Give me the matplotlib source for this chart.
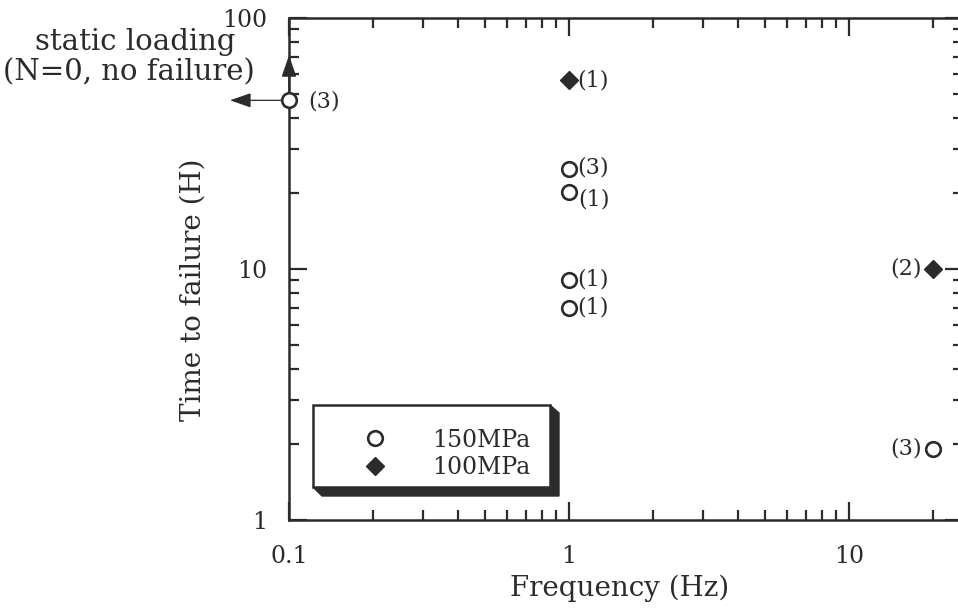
import matplotlib
matplotlib.use("Agg")
import matplotlib.pyplot as plt
from matplotlib.patches import Polygon, Rectangle
from matplotlib.lines import Line2D
from matplotlib.ticker import LogLocator, NullFormatter, FixedLocator, FixedFormatter

plt.rcParams['font.family'] = ['DejaVu Serif']

# ---- data ----
f150 = [0.1, 1, 1, 1, 1, 20]
t150 = [47, 25, 20.2, 9, 7, 1.92]
n150 = ['(3)', '(3)', '(1)', '(1)', '(1)', '(3)']
f100 = [1, 20]
t100 = [56.5, 10]
n100 = ['(1)', '(2)']
x_ticks = [0.1, 1, 10]
x_ticklabels = ['0.1', '1', '10']
y_ticks = [1, 10, 100]
y_ticklabels = ['1', '10', '100']
series_names = ['150MPa', '100MPa']
static_freq = 0.1
static_time = 47
static_line1 = 'static loading'
static_line2 = '(N=0, no failure)'

# label offsets (points)
off150 = [(14, -1), (6, 1), (7, -5), (6, 1), (6, 0), (-8, 0)]
ha150 = ['left', 'left', 'left', 'left', 'left', 'right']
off100 = [(6, 0), (-8, 0)]
ha100 = ['left', 'right']

C = '#2b2b2b'
W, H = 958, 610
fig = plt.figure(figsize=(W / 100, H / 100), dpi=100)
L, R, T, B = 289, 963, 18, 520
ax = fig.add_axes([L / W, (H - B) / H, (R - L) / W, (B - T) / H])
ax.set_xscale('log')
ax.set_yscale('log')
ax.set_xlim(0.1, 0.1 * 10 ** ((R - L) / 280))
ax.set_ylim(1, 100)

for s in ax.spines.values():
    s.set_linewidth(1.8)
    s.set_color(C)

ax.xaxis.set_major_locator(FixedLocator(x_ticks))
ax.xaxis.set_major_formatter(FixedFormatter(x_ticklabels))
ax.yaxis.set_major_locator(FixedLocator(y_ticks))
ax.yaxis.set_major_formatter(FixedFormatter(y_ticklabels))
ax.xaxis.set_minor_locator(LogLocator(base=10, subs=range(2, 10)))
ax.yaxis.set_minor_locator(LogLocator(base=10, subs=range(2, 10)))
ax.xaxis.set_minor_formatter(NullFormatter())
ax.yaxis.set_minor_formatter(NullFormatter())
ax.tick_params(which='both', direction='in', top=True, right=True, color=C,
               labelcolor=C, labelsize=17)
ax.tick_params(which='major', length=13, width=1.6)
ax.tick_params(which='minor', length=7, width=1.6)
ax.tick_params(axis='x', which='major', pad=18)
ax.tick_params(axis='y', which='major', pad=15.5)

ax.set_xlabel('Frequency (Hz)', fontsize=20, color=C)
ax.set_ylabel('Time to failure (H)', fontsize=20, color=C)
ax.xaxis.set_label_coords((620 - L) / (R - L), (B - 588) / (B - T))
ax.xaxis.label.set_va('center')
ax.yaxis.set_label_coords((193 - L) / (R - L), (B - 290) / (B - T))
ax.yaxis.label.set_va('center')
ax.yaxis.label.set_ha('center')

# data
ax.plot(f150, t150, linestyle='none', marker='o', markersize=10.5,
        markerfacecolor='white', markeredgecolor=C, markeredgewidth=1.9,
        zorder=5, clip_on=False)
ax.plot(f100, t100, linestyle='none', marker='D', markersize=9.5,
        markerfacecolor=C, markeredgecolor=C, zorder=5, clip_on=False)

for x, y, s, o, ha in zip(f150, t150, n150, off150, ha150):
    ax.annotate(s, (x, y), xytext=o, textcoords='offset points', ha=ha,
                va='center', fontsize=16, color=C)
for x, y, s, o, ha in zip(f100, t100, n100, off100, ha100):
    ax.annotate(s, (x, y), xytext=o, textcoords='offset points', ha=ha,
                va='center', fontsize=16, color=C)

# static loading arrows
ax.annotate('', xy=(static_freq * 10 ** (-59 / 280), static_time),
            xytext=(static_freq, static_time),
            arrowprops=dict(arrowstyle='-|>,head_length=1.3,head_width=0.45',
                            color=C, lw=0.9, shrinkA=0, shrinkB=0),
            annotation_clip=False)
ax.annotate('', xy=(static_freq, 71), xytext=(static_freq, static_time),
            arrowprops=dict(arrowstyle='-|>,head_length=1.3,head_width=0.45',
                            color=C, lw=1.2, shrinkA=0, shrinkB=0),
            annotation_clip=False)
fig.text(135 / W, 1 - 42 / H, static_line1, ha='center', va='center',
         fontsize=21, color=C)
fig.text(129 / W, 1 - 72 / H, static_line2, ha='center', va='center',
         fontsize=21, color=C)

# legend box with shadow
def ac(px, py):
    return ((px - L) / (R - L), (B - py) / (B - T))

shadow = Polygon([ac(313, 487), ac(550, 487), ac(550, 405), ac(559, 413),
                  ac(559, 496), ac(322, 496)], closed=True, transform=ax.transAxes,
                 facecolor=C, edgecolor=C, zorder=6)
ax.add_patch(shadow)
x0, y0 = ac(313, 487)
x1, y1 = ac(550, 405)
box = Rectangle((x0, y0), x1 - x0, y1 - y0, transform=ax.transAxes,
                facecolor='white', edgecolor=C, linewidth=1.8, zorder=7)
ax.add_patch(box)
handles = [Line2D([], [], linestyle='none', marker='o', markersize=10.5,
                  markerfacecolor='white', markeredgecolor=C, markeredgewidth=1.9),
           Line2D([], [], linestyle='none', marker='D', markersize=9.5,
                  markerfacecolor=C, markeredgecolor=C)]
leg = ax.legend(handles, series_names, loc='center left',
                bbox_to_anchor=ac(351, 454), frameon=False, fontsize=17,
                handlelength=2.0, handletextpad=1.44, labelspacing=0.2,
                borderpad=0, borderaxespad=0, labelcolor=C)
leg.set_zorder(8)

fig.savefig('out.png', dpi=100)
